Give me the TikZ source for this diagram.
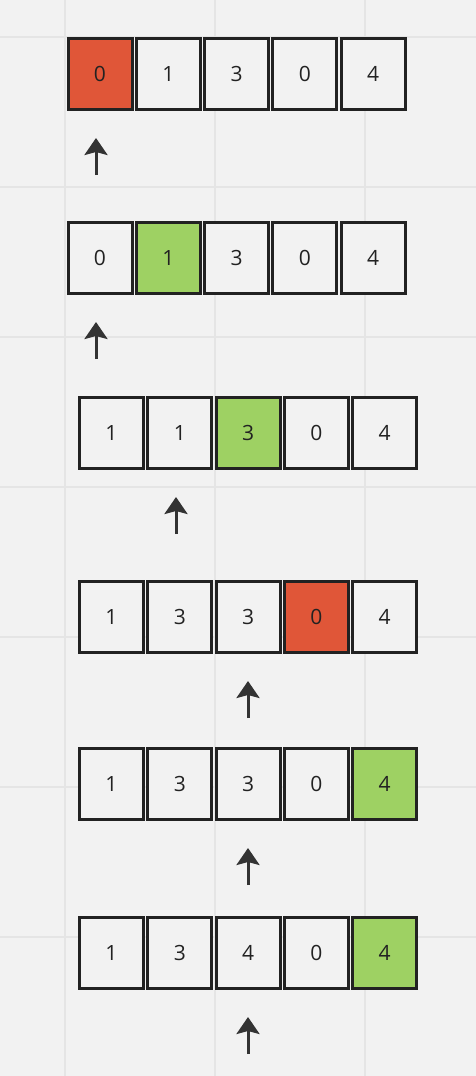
\documentclass[tikz,border=0pt]{standalone}
\usepackage{fontspec}
\setmainfont{Open Sans}
\usetikzlibrary{arrows.meta}
\definecolor{bg}{HTML}{F2F2F2}
\definecolor{gridc}{HTML}{E5E5E5}
\definecolor{redc}{HTML}{E05638}
\definecolor{greenc}{HTML}{9ED163}
\definecolor{edge}{HTML}{222222}
\definecolor{arr}{HTML}{333333}
\begin{document}
\begin{tikzpicture}[x=1pt,y=-1pt,
  cell/.style={draw=edge, line width=3pt, fill=bg, minimum width=64pt, minimum height=71pt, inner sep=0pt, text=edge, font=\fontsize{21}{24}\selectfont},
  red/.style={fill=redc},
  green/.style={fill=greenc},
  pointer/.style={draw=arr, line width=3pt, -{Stealth[length=17pt, width=23pt, inset=3pt]}}]
\fill[bg] (0,0) rectangle (476,1076);
\useasboundingbox (0,0) rectangle (476,1076);
\foreach \x in {65,215,365} \draw[gridc, line width=1.5pt] (\x,0) -- (\x,1076);
\foreach \y in {37,187,337,487,637,787,937} \draw[gridc, line width=1.5pt] (0,\y) -- (476,\y);
% row 1
\node[cell,red] (a0) at (100,74) {0};
\node[cell] (a1) at (168.3,74) {1};
\node[cell] (a2) at (236.6,74) {3};
\node[cell] (a3) at (304.9,74) {0};
\node[cell] (a4) at (373.2,74) {4};
% row 2
\node[cell] (b0) at (100,258) {0};
\node[cell,green] (b1) at (168.3,258) {1};
\node[cell] (b2) at (236.6,258) {3};
\node[cell] (b3) at (304.9,258) {0};
\node[cell] (b4) at (373.2,258) {4};
% row 3
\node[cell] (c0) at (111.5,433) {1};
\node[cell] (c1) at (179.8,433) {1};
\node[cell,green] (c2) at (248.1,433) {3};
\node[cell] (c3) at (316.4,433) {0};
\node[cell] (c4) at (384.7,433) {4};
% row 4
\node[cell] (d0) at (111.5,617) {1};
\node[cell] (d1) at (179.8,617) {3};
\node[cell] (d2) at (248.1,617) {3};
\node[cell,red] (d3) at (316.4,617) {0};
\node[cell] (d4) at (384.7,617) {4};
% row 5
\node[cell] (e0) at (111.5,784) {1};
\node[cell] (e1) at (179.8,784) {3};
\node[cell] (e2) at (248.1,784) {3};
\node[cell] (e3) at (316.4,784) {0};
\node[cell,green] (e4) at (384.7,784) {4};
% row 6
\node[cell] (f0) at (111.5,953) {1};
\node[cell] (f1) at (179.8,953) {3};
\node[cell] (f2) at (248.1,953) {4};
\node[cell] (f3) at (316.4,953) {0};
\node[cell,green] (f4) at (384.7,953) {4};
% pointers
\coordinate (p1s) at (96,175); \coordinate (p1e) at (96,138);
\coordinate (p2s) at (96,359); \coordinate (p2e) at (96,322);
\coordinate (p3s) at (176,534); \coordinate (p3e) at (176,497);
\coordinate (p4s) at (248,718); \coordinate (p4e) at (248,681);
\coordinate (p5s) at (248,885); \coordinate (p5e) at (248,848);
\coordinate (p6s) at (248,1054); \coordinate (p6e) at (248,1017);
\foreach \k in {1,...,6} \draw[pointer] (p\k s) -- (p\k e);
\end{tikzpicture}
\end{document}
